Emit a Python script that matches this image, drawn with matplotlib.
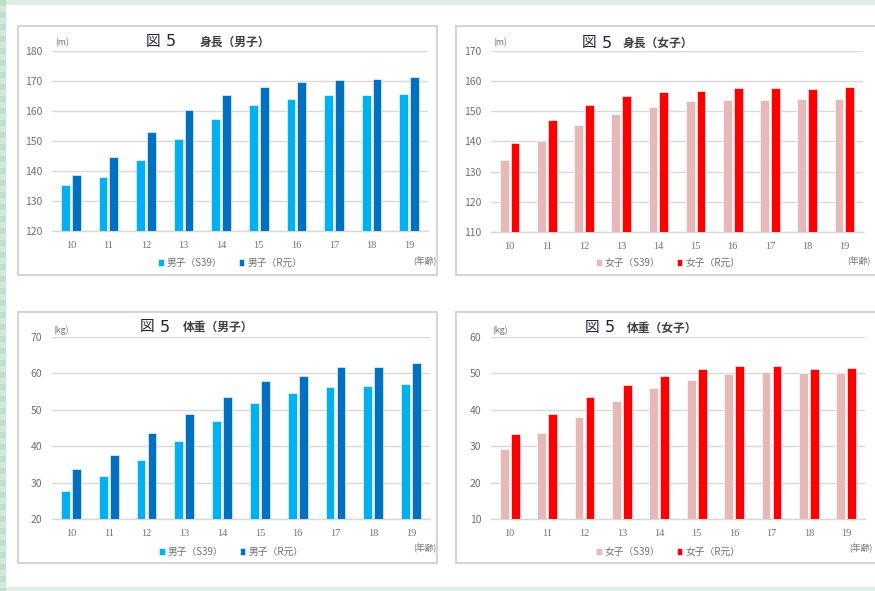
import matplotlib
matplotlib.use("Agg")
import matplotlib.pyplot as plt
from matplotlib.patches import Rectangle
import numpy as np

# ---- data -------------------------------------------------------------
ages = ["10", "11", "12", "13", "14", "15", "16", "17", "18", "19"]

boys_height_s39 = [135.3, 138.1, 143.5, 150.7, 157.3, 162.1, 163.9, 165.2, 165.2, 165.8]
boys_height_r1 = [138.6, 144.7, 153.0, 160.2, 165.3, 168.0, 169.8, 170.4, 170.7, 171.2]

girls_height_s39 = [134.0, 140.1, 145.5, 149.2, 151.5, 153.3, 153.6, 153.9, 154.1, 154.2]
girls_height_r1 = [139.6, 147.0, 152.0, 155.0, 156.5, 156.9, 157.6, 157.7, 157.5, 158.0]

boys_weight_s39 = [27.6, 31.9, 36.1, 41.3, 47.0, 51.8, 54.5, 56.3, 56.6, 57.2]
boys_weight_r1 = [33.6, 37.7, 43.5, 48.8, 53.4, 57.9, 59.3, 61.8, 61.8, 62.8]

girls_weight_s39 = [29.3, 33.5, 38.1, 42.5, 45.9, 48.1, 49.7, 50.5, 50.0, 50.0]
girls_weight_r1 = [33.3, 38.8, 43.4, 46.8, 49.3, 51.1, 52.0, 52.0, 51.1, 51.5]

# ---- styling ----------------------------------------------------------
W, H = 875, 591
CJK = ["Noto Sans CJK JP", "DejaVu Sans"]
plt.rcParams["font.family"] = CJK

BOY_OLD, BOY_NEW = "#00B0F0", "#0070C0"
GIRL_OLD, GIRL_NEW = "#E6B8B7", "#FF0000"
GRID = "#D9D9D9"
TXT = "#707070"

fig = plt.figure(figsize=(W / 100, H / 100), dpi=100)
fig.patch.set_facecolor("white")


def fx(x):
    return x / W


def fy(y):
    return 1 - y / H


def frect(x0, y0, x1, y1, **kw):
    r = Rectangle((fx(x0), fy(y1)), (x1 - x0) / W, (y1 - y0) / H,
                  transform=fig.transFigure, **kw)
    fig.patches.append(r)
    return r


# page background strips
frect(0, 0, W, 5, facecolor="#DDEFE5", edgecolor="none", zorder=0)
frect(0, 587, W, H, facecolor="#DDEFE5", edgecolor="none", zorder=0)
for i, y in enumerate(range(0, H, 6)):
    frect(0, y, 6, y + 6, facecolor="#D3EADD" if i % 2 else "#BDDFCC",
          edgecolor="none", zorder=0)

# panel frames
for (x0, y0, x1, y1) in [(18, 26, 437, 275), (456, 26, 882, 275),
                         (18, 312, 437, 563), (456, 312, 882, 563)]:
    frect(x0, y0, x1, y1, facecolor="white", edgecolor="#D4D4D4",
          linewidth=1.4, zorder=0.5)


def panel(px, title, unit, old, new, labels, colors, ylim, step, tpos,
          cap_dx, upos, apos, lpos):
    x0, y0, x1, y1 = px
    ax = fig.add_axes([fx(x0), fy(y1), (x1 - x0) / W, (y1 - y0) / H])
    ax.set_zorder(2)
    ax.patch.set_alpha(0)
    x = np.arange(len(ages))
    off, w = 0.145, 0.235
    b1 = ax.bar(x - off, old, width=w, color=colors[0], edgecolor="white",
                linewidth=0.4, zorder=3, label=labels[0])
    b2 = ax.bar(x + off, new, width=w, color=colors[1], edgecolor="white",
                linewidth=0.4, zorder=3, label=labels[1])
    ax.set_xlim(-0.5, len(ages) - 0.5)
    ax.set_ylim(*ylim)
    ax.set_yticks(np.arange(ylim[0], ylim[1] + 0.1, step))
    ax.set_xticks(x)
    ax.set_xticklabels(ages, family=["Liberation Serif", "DejaVu Serif"],
                       fontsize=7.5)
    ax.grid(axis="y", color=GRID, linewidth=1.0, zorder=0)
    for s in ["top", "right", "left"]:
        ax.spines[s].set_visible(False)
    ax.spines["bottom"].set_color(GRID)
    ax.spines["bottom"].set_linewidth(1.0)
    ax.tick_params(axis="both", length=0, colors=TXT)
    ax.tick_params(axis="y", pad=7, labelsize=7.5)
    ax.tick_params(axis="x", pad=7)

    # title: figure number plus caption
    tx, ty = tpos
    fig.text(fx(tx), fy(ty), "図", fontsize=10.5, color="#1F1F3F",
             ha="left", va="center", family=CJK)
    fig.text(fx(tx + 20), fy(ty), "5", fontsize=11.5, color="#1F1F3F",
             ha="left", va="center", family=["DejaVu Sans"])
    fig.text(fx(tx + cap_dx), fy(ty), title, fontsize=8.5, color="#404040",
             fontweight="bold", ha="left", va="center", family=CJK)

    fig.text(fx(upos[0]), fy(upos[1]), unit, fontsize=6.3, color=TXT,
             ha="left", va="center")
    fig.text(fx(apos[0]), fy(apos[1]), "(年齢)", fontsize=6.3, color=TXT,
             ha="right", va="center")
    fig.legend(handles=[b1, b2], loc="center",
               bbox_to_anchor=(fx(lpos[0]), fy(lpos[1])), ncol=2,
               frameon=False, fontsize=7, handlelength=0.6,
               handleheight=0.6, handletextpad=0.3, columnspacing=1.7,
               labelcolor=TXT, borderaxespad=0, borderpad=0)
    return ax


panel((52, 51, 428, 231), "身長（男子）", "(m)",
      boys_height_s39, boys_height_r1, ["男子（S39）", "男子（R元）"],
      (BOY_OLD, BOY_NEW), (120, 180), 10,
      (146, 42), 54, (55, 43), (436, 261), (230, 263))

panel((491, 51, 863, 232), "身長（女子）", "(m)",
      girls_height_s39, girls_height_r1, ["女子（S39）", "女子（R元）"],
      (GIRL_OLD, GIRL_NEW), (110, 170), 10,
      (582, 43), 41, (493, 43), (871, 261), (668, 263))

panel((52, 337, 430, 519), "体重（男子）", "(kg)",
      boys_weight_s39, boys_weight_r1, ["男子（S39）", "男子（R元）"],
      (BOY_OLD, BOY_NEW), (20, 70), 10,
      (140, 327), 43, (53, 330), (437, 548), (231, 552))

panel((491, 337, 865, 519), "体重（女子）", "(kg)",
      girls_weight_s39, girls_weight_r1, ["女子（S39）", "女子（R元）"],
      (GIRL_OLD, GIRL_NEW), (10, 60), 10,
      (585, 328), 42, (492, 330), (872, 548), (668, 552))

fig.savefig("out.png", dpi=100, facecolor=fig.get_facecolor())
